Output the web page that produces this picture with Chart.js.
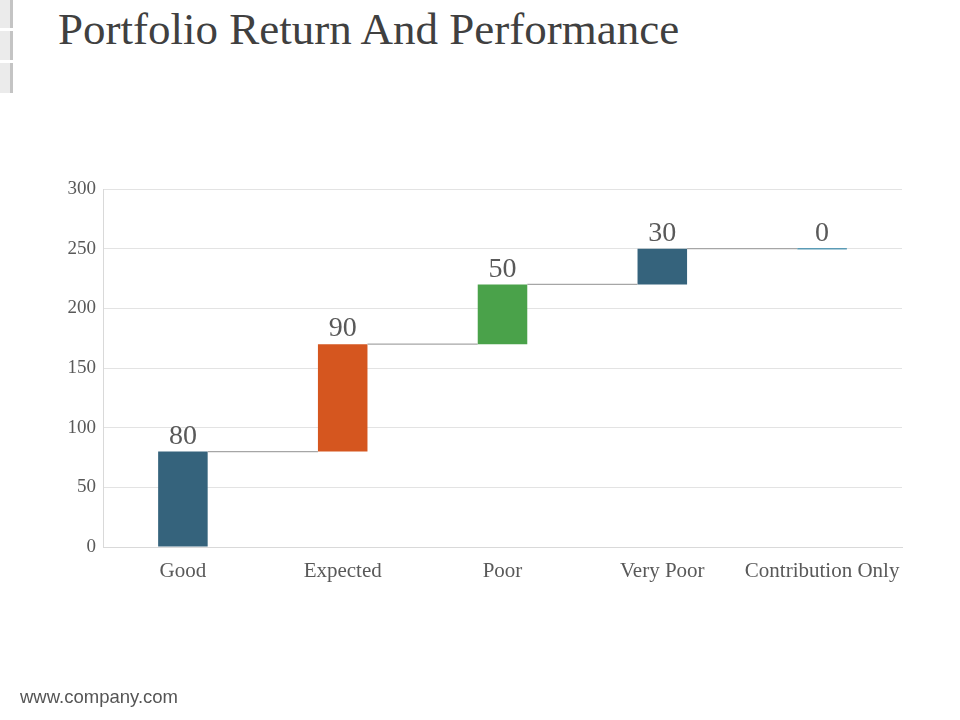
<!DOCTYPE html>
<html>
<head>
<meta charset="utf-8">
<script src="https://cdn.jsdelivr.net/npm/chart.js@4/dist/chart.umd.min.js"></script>
<style>
  html, body { margin: 0; padding: 0; background: #fff; }
  #wrap { position: relative; width: 960px; height: 720px; overflow: hidden; }
  #title {
    position: absolute; left: 58px; top: 3px;
    font-family: "Liberation Serif", "DejaVu Serif", serif;
    font-size: 45px; color: #404040; white-space: nowrap;
  }
  .mark { position: absolute; left: 0; width: 10px; background: #ebebeb; border-right: 3px solid #c4c4c4; }
  #footer {
    position: absolute; left: 20px; top: 686px;
    font-family: "Liberation Sans", Arial, sans-serif; font-size: 18.5px; color: #555;
  }
  #chart { position: absolute; left: 0; top: 0; }
</style>
</head>
<body>
<div id="wrap">
  <div class="mark" style="top:0;height:28px"></div>
  <div class="mark" style="top:31px;height:29px"></div>
  <div class="mark" style="top:63px;height:30px"></div>
  <div id="title">Portfolio Return And Performance</div>
  <canvas id="chart" width="960" height="720"></canvas>
  <div id="footer">www.company.com</div>
</div>
<script>
  // waterfall data
  const categories = ["Good", "Expected", "Poor", "Very Poor", "Contribution Only"];
  const changes = [80, 90, 50, 30, 0];
  const starts = [0, 80, 170, 220, 250];
  const ends = [80, 170, 220, 250, 250];
  const barColors = ["#35637c", "#d5561f", "#4aa24a", "#35637c", "#5b9bb5"];
  const yTicks = [0, 50, 100, 150, 200, 250, 300];

  const PLOT_LEFT = 103, PLOT_RIGHT = 902, PLOT_TOP = 189, PLOT_BOTTOM = 547;

  // connectors between bars + value labels
  const waterfallPlugin = {
    id: "waterfall",
    afterDatasetsDraw(chart) {
      const ctx = chart.ctx;
      const meta = chart.getDatasetMeta(0);
      const y = chart.scales.y;
      ctx.save();
      meta.data.forEach((bar, i) => {
        const half = bar.width / 2;
        const top = y.getPixelForValue(ends[i]);
        if (i < meta.data.length - 1) {
          const next = meta.data[i + 1];
          ctx.strokeStyle = "#a6a6a6";
          ctx.lineWidth = 1.2;
          ctx.beginPath();
          ctx.moveTo(bar.x + half, top);
          ctx.lineTo(next.x - next.width / 2, top);
          ctx.stroke();
        }
        if (starts[i] === ends[i]) {
          ctx.strokeStyle = barColors[i];
          ctx.lineWidth = 1.5;
          ctx.beginPath();
          ctx.moveTo(bar.x - half, top);
          ctx.lineTo(bar.x + half, top);
          ctx.stroke();
        }
        ctx.fillStyle = "#595959";
        ctx.font = "28px 'Liberation Serif', serif";
        ctx.textAlign = "center";
        ctx.textBaseline = "bottom";
        ctx.fillText(String(changes[i]), bar.x, top - 1);
      });
      ctx.restore();
    }
  };

  new Chart(document.getElementById("chart"), {
    type: "bar",
    data: {
      labels: categories,
      datasets: [{
        data: categories.map((c, i) => [starts[i], ends[i]]),
        backgroundColor: barColors,
        borderWidth: 0,
        categoryPercentage: 1,
        barPercentage: 0.31
      }]
    },
    options: {
      responsive: false,
      animation: false,
      layout: { padding: { left: 0, right: 960 - PLOT_RIGHT, top: PLOT_TOP, bottom: 0 } },
      plugins: { legend: { display: false }, tooltip: { enabled: false } },
      scales: {
        x: {
          grid: { display: false },
          border: { display: true, color: "#d9d9d9" },
          ticks: {
            color: "#595959",
            font: { family: "'Liberation Serif', serif", size: 21 },
            padding: 4,
            maxRotation: 0,
            autoSkip: false
          },
          afterFit(s) { s.height = 720 - PLOT_BOTTOM; }
        },
        y: {
          min: 0,
          max: 300,
          afterBuildTicks(s) { s.ticks = yTicks.map(v => ({ value: v })); },
          grid: { color: "#e3e3e3", drawTicks: false },
          border: { display: true, color: "#d9d9d9" },
          ticks: {
            color: "#595959",
            font: { family: "'Liberation Serif', serif", size: 19 },
            padding: 7
          },
          afterFit(s) { s.width = PLOT_LEFT; }
        }
      }
    },
    plugins: [waterfallPlugin]
  });
</script>
</body>
</html>
